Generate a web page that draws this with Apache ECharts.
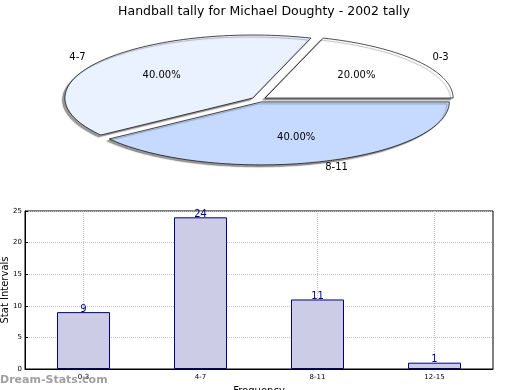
<!DOCTYPE html>
<html>
<head>
<meta charset="utf-8">
<script src="https://cdn.jsdelivr.net/npm/echarts@6/dist/echarts.min.js"></script>
<style>
html,body{margin:0;padding:0;background:#fff;}
#chart{width:520px;height:390px;}
</style>
</head>
<body>
<div id="chart"></div>
<script>
// ---- data ----
var titleText = 'Handball tally for Michael Doughty - 2002 tally';
var pieLabels = ['0-3', '4-7', '8-11'];
var pieValues = [20, 40, 40];
var pieColors = ['#ffffff', '#eaf1ff', '#c6d9fe'];
var barCategories = ['0-3', '4-7', '8-11', '12-15'];
var barValues = [9, 24, 11, 1];
var yTicks = [0, 5, 10, 15, 20, 25];

var FONT = 'DejaVu Sans, sans-serif';
var total = pieValues.reduce(function (a, b) { return a + b; }, 0);
var explode = 0.04;

function renderSlice(params, api) {
  var i = params.dataIndex;
  var before = 0;
  for (var k = 0; k < i; k++) before += pieValues[k];
  var a0 = before / total * Math.PI * 2;
  var a1 = (before + pieValues[i]) / total * Math.PI * 2;
  var mid = (a0 + a1) / 2;
  var ox = explode * Math.cos(mid), oy = explode * Math.sin(mid);
  var pts = [api.coord([ox, oy])];
  var steps = 80;
  for (var s = 0; s <= steps; s++) {
    var a = a0 + (a1 - a0) * s / steps;
    pts.push(api.coord([ox + Math.cos(a), oy + Math.sin(a)]));
  }
  var lp = api.coord([ox + 1.1 * Math.cos(mid), oy + 1.1 * Math.sin(mid)]);
  var pp = api.coord([ox + 0.6 * Math.cos(mid), oy + 0.6 * Math.sin(mid)]);
  var pct = (pieValues[i] / total * 100).toFixed(2) + '%';
  return {
    type: 'group',
    children: [
      {
        type: 'polygon',
        shape: { points: pts },
        style: {
          fill: pieColors[i], stroke: '#000', lineWidth: 0.7,
          shadowColor: 'rgba(0,0,0,0.4)', shadowBlur: 1,
          shadowOffsetX: -2.5, shadowOffsetY: 2
        }
      },
      {
        type: 'text', x: lp[0], y: lp[1],
        style: {
          text: pieLabels[i], fill: '#000', font: '10px ' + FONT,
          align: Math.cos(mid) >= 0 ? 'left' : 'right', verticalAlign: 'middle'
        }
      },
      {
        type: 'text', x: pp[0], y: pp[1],
        style: {
          text: pct, fill: '#000', font: '10px ' + FONT,
          align: 'center', verticalAlign: 'middle'
        }
      }
    ]
  };
}

var chart = echarts.init(document.getElementById('chart'), null, { renderer: 'canvas' });
chart.setOption({
  backgroundColor: '#ffffff',
  animation: false,
  title: {
    text: titleText, left: 259, top: 0, textAlign: 'center',
    textStyle: { fontFamily: FONT, fontSize: 12.5, fontWeight: 'normal', color: '#000' }
  },
  graphic: [{
    type: 'text', left: 0, top: 375,
    style: { text: 'Dream-Stats.com', fill: '#a0a0a0', font: 'bold 11px ' + FONT }
  }],
  grid: [
    { left: 25, right: 27, top: 211, bottom: 21, show: true, borderColor: '#000', borderWidth: 1,
      backgroundColor: 'transparent', containLabel: false, outerBoundsMode: 'none' },
    { left: 71, width: 376, top: 36.5, height: 126, show: false, containLabel: false, outerBoundsMode: 'none' }
  ],
  xAxis: [
    {
      type: 'category', gridIndex: 0, data: barCategories, boundaryGap: true,
      name: 'Frequency', nameLocation: 'middle', nameGap: 17, nameMoveOverlap: false,
      nameTextStyle: { fontFamily: FONT, fontSize: 10, color: '#000' },
      axisLine: { show: true, lineStyle: { color: '#000', width: 1 } },
      axisTick: { show: false },
      axisLabel: { fontFamily: FONT, fontSize: 7, color: '#000', margin: 5 },
      splitLine: { show: true, alignWithLabel: true, lineStyle: { color: '#c4c4c4', type: 'dotted', width: 1 } }
    },
    { type: 'value', gridIndex: 1, min: -1, max: 1, show: false }
  ],
  yAxis: [
    {
      type: 'value', gridIndex: 0, min: yTicks[0], max: yTicks[yTicks.length - 1], interval: 5,
      name: 'Stat Intervals', nameLocation: 'middle', nameGap: 15, nameMoveOverlap: false,
      nameTextStyle: { fontFamily: FONT, fontSize: 10, color: '#000' },
      axisLine: { show: true, lineStyle: { color: '#000', width: 1 } },
      axisTick: { show: true, inside: true, length: 3, lineStyle: { color: '#000' } },
      axisLabel: { fontFamily: FONT, fontSize: 7, color: '#000', margin: 3 },
      splitLine: { show: true, lineStyle: { color: '#c4c4c4', type: 'dotted', width: 1 } }
    },
    { type: 'value', gridIndex: 1, min: -1, max: 1, show: false }
  ],
  series: [
    {
      type: 'bar', xAxisIndex: 0, yAxisIndex: 0, data: barValues, barWidth: 53,
      itemStyle: { color: '#ccccE6', borderColor: '#000080', borderWidth: 1 },
      label: { show: true, position: 'top', distance: -2, color: '#00008b', fontFamily: FONT, fontSize: 10 }
    },
    {
      type: 'custom', coordinateSystem: 'cartesian2d', xAxisIndex: 1, yAxisIndex: 1,
      renderItem: renderSlice,
      data: pieValues.map(function (v, i) { return { name: pieLabels[i], value: [0, 0, v] }; }),
      silent: true, clip: false
    }
  ]
});
</script>
</body>
</html>
